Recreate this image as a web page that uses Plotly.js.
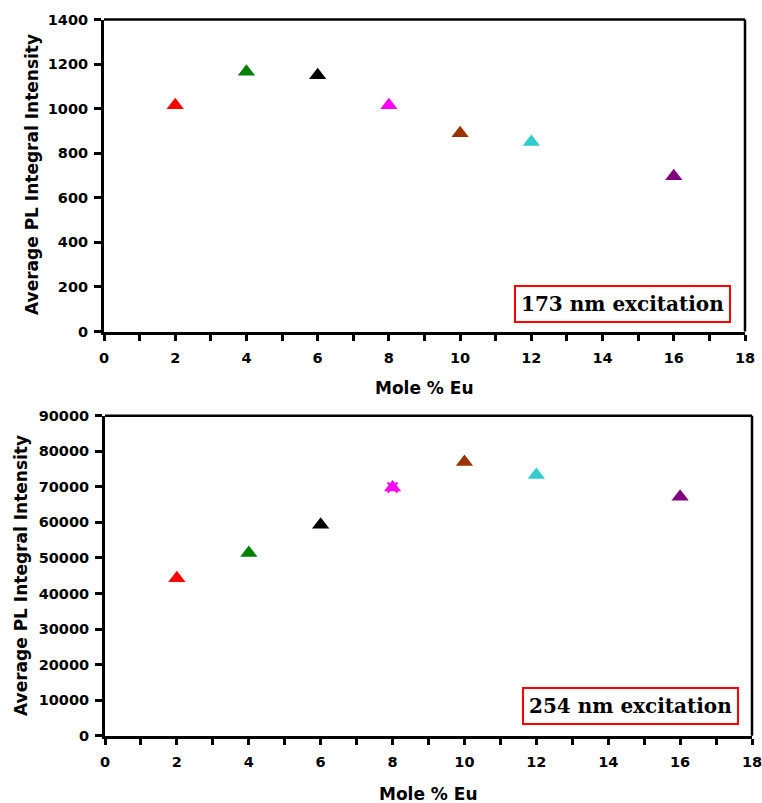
<!DOCTYPE html>
<html>
<head>
<meta charset="utf-8">
<script src="https://cdn.plot.ly/plotly-3.0.1.min.js"></script>
<style>html,body{margin:0;padding:0;background:#fff;}#chart{width:762px;height:803px;}</style>
</head>
<body>
<div id="chart"></div>
<script>
const molePct = [2, 4, 6, 8, 10, 12, 16];
const pl173 = [1015, 1165, 1150, 1015, 890, 850, 697];
const pl254 = [44300, 51400, 59300, 69800, 77000, 73300, 67200];
const pointColors = ['#FF0000', '#008000', '#000000', '#FF00FF', '#993300', '#33CCCC', '#800080'];
const xTitle = 'Mole % Eu';
const yTitle = 'Average PL Integral Intensity';
const label173 = '173 nm excitation';
const label254 = '254 nm excitation';

const W = 762, H = 803;
const px = v => v / W;
const py = v => 1 - v / H;

const fnt = {family: 'DejaVu Sans', size: 14.5, color: '#000', weight: 'bold'};

const traces = [
  {x: molePct, y: pl173, xaxis: 'x', yaxis: 'y', type: 'scatter', mode: 'markers',
   marker: {symbol: 'triangle-up', size: 15, color: pointColors}},
  {x: molePct, y: pl254, xaxis: 'x2', yaxis: 'y2', type: 'scatter', mode: 'markers',
   marker: {symbol: 'triangle-up', size: 15, color: pointColors}},
  {x: [molePct[3]], y: [pl254[3]], xaxis: 'x2', yaxis: 'y2', type: 'scatter', mode: 'markers',
   marker: {symbol: 'x-thin', size: 10, line: {color: pointColors[3], width: 2}}}
];

function xax(domain, anchor) {
  return {domain: domain, anchor: anchor, range: [0, 18], dtick: 2, tick0: 0,
    showline: true, linewidth: 3, linecolor: '#000', ticks: 'outside', ticklen: 6, tickwidth: 3,
    tickcolor: '#000', showgrid: false, zeroline: false, tickfont: fnt, fixedrange: true, ticklabelstandoff: 5,
    ticklabeloverflow: 'allow',
    minor: {dtick: 1, tick0: 0, ticks: 'outside', ticklen: 6, tickwidth: 3, tickcolor: '#000', showgrid: false}};
}
function yax(domain, anchor, max, dt) {
  return {domain: domain, anchor: anchor, range: [0, max], dtick: dt, tick0: 0, tickformat: 'd',
    showline: true, linewidth: 3, linecolor: '#000', ticks: 'outside', ticklen: 7, tickwidth: 3,
    tickcolor: '#000', showgrid: false, zeroline: false, tickfont: fnt, fixedrange: true, ticklabelstandoff: 3,
    ticklabeloverflow: 'allow'};
}

const titleFont = {family: 'DejaVu Sans', size: 17, color: '#000', weight: 'bold'};
const boxFont = {family: 'DejaVu Serif', size: 20, color: '#000', weight: 'bold'};

const layout = {
  width: W, height: H, margin: {l: 0, r: 0, t: 0, b: 0},
  paper_bgcolor: '#fff', plot_bgcolor: '#fff', showlegend: false,
  xaxis: xax([px(104), px(745)], 'y'),
  yaxis: yax([py(331.5), py(19.5)], 'x', 1400, 200),
  xaxis2: xax([px(105), px(752)], 'y2'),
  yaxis2: yax([py(735.7), py(415.7)], 'x2', 90000, 10000),
  shapes: [
    {type: 'line', xref: 'x domain', yref: 'y domain', x0: 0, x1: 1, y0: 1, y1: 1, line: {color: '#000', width: 2.5}},
    {type: 'line', xref: 'x domain', yref: 'y domain', x0: 1, x1: 1, y0: 0, y1: 1, line: {color: '#000', width: 2.5}},
    {type: 'line', xref: 'x2 domain', yref: 'y2 domain', x0: 0, x1: 1, y0: 1, y1: 1, line: {color: '#000', width: 2.5}},
    {type: 'line', xref: 'x2 domain', yref: 'y2 domain', x0: 1, x1: 1, y0: 0, y1: 1, line: {color: '#000', width: 2.5}}
  ],
  annotations: [
    {text: yTitle, textangle: -90, xref: 'paper', yref: 'paper', x: px(32), y: py(175), xanchor: 'center', yanchor: 'middle', showarrow: false, font: titleFont},
    {text: yTitle, textangle: -90, xref: 'paper', yref: 'paper', x: px(21), y: py(576), xanchor: 'center', yanchor: 'middle', showarrow: false, font: titleFont},
    {text: xTitle, xref: 'paper', yref: 'paper', x: px(424), y: py(388), xanchor: 'center', yanchor: 'middle', showarrow: false, font: titleFont},
    {text: xTitle, xref: 'paper', yref: 'paper', x: px(428), y: py(794), xanchor: 'center', yanchor: 'middle', showarrow: false, font: titleFont},
    {text: label173, xref: 'paper', yref: 'paper', x: px(622.5), y: py(304), xanchor: 'center', yanchor: 'middle', showarrow: false,
     font: boxFont, bordercolor: '#FF0000', borderwidth: 2, borderpad: 5, bgcolor: '#fff'},
    {text: label254, xref: 'paper', yref: 'paper', x: px(630.5), y: py(706), xanchor: 'center', yanchor: 'middle', showarrow: false,
     font: boxFont, bordercolor: '#FF0000', borderwidth: 2, borderpad: 5, bgcolor: '#fff'}
  ]
};

Plotly.newPlot('chart', traces, layout, {displayModeBar: false, staticPlot: true});
</script>
</body>
</html>
